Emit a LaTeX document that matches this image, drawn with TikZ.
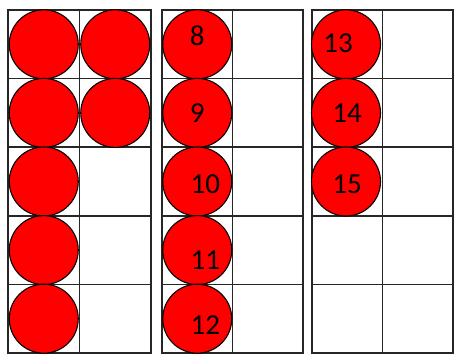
\documentclass[tikz,border=0pt]{standalone}
\usepackage{fontspec}
\newfontfamily\countfont{Carlito}
\usetikzlibrary{calc}
\tikzset{
  framegrid/.style={draw=black!85, line width=1.8pt},
  counter/.style={circle, draw=black, line width=1.1pt, fill=red, minimum size=69pt, inner sep=0pt},
  numtext/.style={font=\countfont\fontsize{29}{31}\selectfont, text=black, inner sep=0pt}
}
\begin{document}
\begin{tikzpicture}[x=1pt,y=-1pt]
  \useasboundingbox (0,0) rectangle (454,355);
  % three ten-frames
  \foreach \L/\R in {8/151,162/303,312/453}{
    \draw[framegrid] (\L,10) rectangle (\R,353);
    \draw[framegrid] ({(\L+\R)/2},10) -- ({(\L+\R)/2},353);
    \foreach \i in {1,...,4}
      \draw[framegrid] (\L,{10+68.6*\i}) -- (\R,{10+68.6*\i});
  }
  % first frame: seven counters
  \foreach \n/\x/\r in {1/43.75/0,2/115.25/0,3/43.75/1,4/115.25/1,5/43.75/2,6/43.75/3,7/43.75/4}
    \node[counter] (c\n) at (\x,{44.3+68.6*\r}) {};
  % counting on: 8 to 15
  \foreach \n/\x/\r/\dx/\dy in {8/197.25/0/0/-9,9/197.25/1/0/0,10/197.25/2/8/3,11/197.25/3/8/10,12/197.25/4/8/6,13/346/0/-8/-1,14/346/1/1/0,15/346/2/1/3}{
    \node[counter] (c\n) at (\x,{44.3+68.6*\r}) {};
    \node[numtext] (t\n) at ($(c\n)+(\dx,\dy)$) {\n};
  }
\end{tikzpicture}
\end{document}
